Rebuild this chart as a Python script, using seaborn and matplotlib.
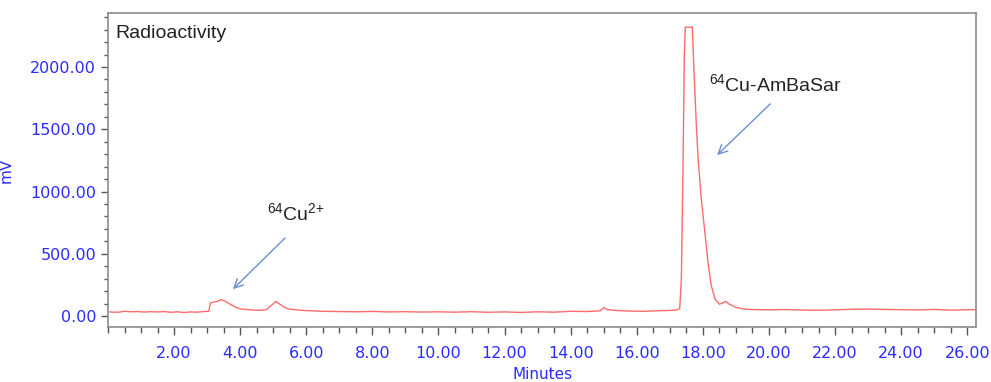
import matplotlib
matplotlib.use("Agg")
import matplotlib.pyplot as plt
from matplotlib.ticker import MultipleLocator, FixedLocator, FormatStrFormatter
import seaborn as sns
import pandas as pd

# chromatogram trace (minutes, mV)
minutes = [0.05, 0.3, 0.5, 0.7, 0.9, 1.1, 1.3, 1.5, 1.7, 1.9, 2.1, 2.3, 2.5, 2.7, 2.9,
           3.05, 3.1, 3.2, 3.3, 3.42, 3.55, 3.7, 3.85, 4.0, 4.2, 4.4, 4.6, 4.8, 4.9,
           5.0, 5.08, 5.2, 5.35, 5.5, 5.7, 5.9, 6.2, 6.5, 7.0, 7.5, 8.0, 8.5, 9.0,
           9.5, 10.0, 10.5, 11.0, 11.5, 12.0, 12.5, 13.0, 13.5, 14.0, 14.5, 14.9,
           15.0, 15.1, 15.4, 15.8, 16.2, 16.6, 17.0, 17.2, 17.3, 17.35, 17.4, 17.44,
           17.47, 17.68, 17.72, 17.8, 17.86, 17.95, 18.05, 18.16, 18.25, 18.37, 18.5,
           18.6, 18.7, 18.8, 19.0, 19.2, 19.5, 20.0, 20.5, 21.0, 21.5, 22.0, 22.5,
           23.0, 23.5, 24.0, 24.5, 25.0, 25.5, 26.0, 26.25]
mv = [33, 30, 38, 34, 36, 32, 35, 33, 36, 30, 34, 28, 33, 31, 36,
      38, 105, 112, 118, 132, 118, 95, 72, 58, 52, 48, 46, 52, 75,
      98, 118, 95, 68, 55, 50, 45, 42, 38, 36, 34, 37, 33, 35,
      32, 34, 31, 35, 30, 33, 29, 34, 31, 38, 36, 42,
      68, 52, 44, 40, 38, 42, 45, 48, 60, 300, 1200, 2100,
      2320, 2320, 2050, 1550, 1250, 950, 700, 420, 250, 135, 95,
      105, 118, 95, 70, 58, 52, 50, 52, 48, 46, 50, 54,
      56, 53, 51, 49, 53, 47, 50, 52]
x_ticks = [2, 4, 6, 8, 10, 12, 14, 16, 18, 20, 22, 24, 26]

df = pd.DataFrame({"Minutes": minutes, "mV": mv})

sns.set_style("white")
plt.rcParams["font.family"] = ["Liberation Sans", "DejaVu Sans"]
plt.rcParams["mathtext.fontset"] = "custom"
plt.rcParams["mathtext.rm"] = "Liberation Sans"
plt.rcParams["mathtext.it"] = "Liberation Sans"
plt.rcParams["mathtext.default"] = "regular"

fig = plt.figure(figsize=(9.91, 3.82), dpi=100)
ax = fig.add_axes([0.109, 0.144, 0.876, 0.822])

sns.lineplot(data=df, x="Minutes", y="mV", color="#ff6b6b", linewidth=1.0, ax=ax)

ax.set_xlim(0, 26.27)
ax.set_ylim(-88, 2434)
ax.xaxis.set_major_locator(FixedLocator(x_ticks))
ax.xaxis.set_minor_locator(MultipleLocator(0.5))
ax.yaxis.set_major_locator(MultipleLocator(500))
ax.yaxis.set_minor_locator(MultipleLocator(100))
ax.xaxis.set_major_formatter(FormatStrFormatter("%.2f"))
ax.yaxis.set_major_formatter(FormatStrFormatter("%.2f"))

blue = "#2b2bff"
ax.tick_params(axis="both", which="both", direction="out", color="#555555",
               labelcolor=blue, labelsize=11.5, bottom=True, left=True)
ax.tick_params(axis="x", which="major", length=6, width=1, pad=8)
ax.tick_params(axis="x", which="minor", length=4, width=1)
ax.tick_params(axis="y", which="major", length=5, width=1)
ax.tick_params(axis="y", which="minor", length=3, width=1)
for lab in ax.get_xticklabels() + ax.get_yticklabels():
    lab.set_family("DejaVu Sans")

for s in ax.spines.values():
    s.set_color("#8c8c8c")
    s.set_linewidth(1.2)

ax.set_xlabel("Minutes", color=blue, fontsize=11, family="DejaVu Sans", labelpad=4)
ax.set_ylabel("mV", color=blue, fontsize=11, family="DejaVu Sans", labelpad=12)

ax.text(0.008, 0.935, "Radioactivity", transform=ax.transAxes, fontsize=14,
        color="#222222", va="center", ha="left")

arrow = dict(arrowstyle="->", color="#6b8fd6", lw=1.0, mutation_scale=16)
ax.annotate("$^{64}$Cu$^{2{+}}$", xy=(3.72, 200), xytext=(5.7, 830),
            fontsize=14, color="#222222", ha="center", va="center")
ax.annotate("", xy=(3.72, 200), xytext=(5.42, 643), arrowprops=arrow)
ax.annotate("$^{64}$Cu-AmBaSar", xy=(18.37, 1277), xytext=(20.2, 1860),
            fontsize=14, color="#222222", ha="center", va="center")
ax.annotate("", xy=(18.37, 1277), xytext=(20.1, 1719), arrowprops=arrow)

fig.savefig("out.png", dpi=100)
